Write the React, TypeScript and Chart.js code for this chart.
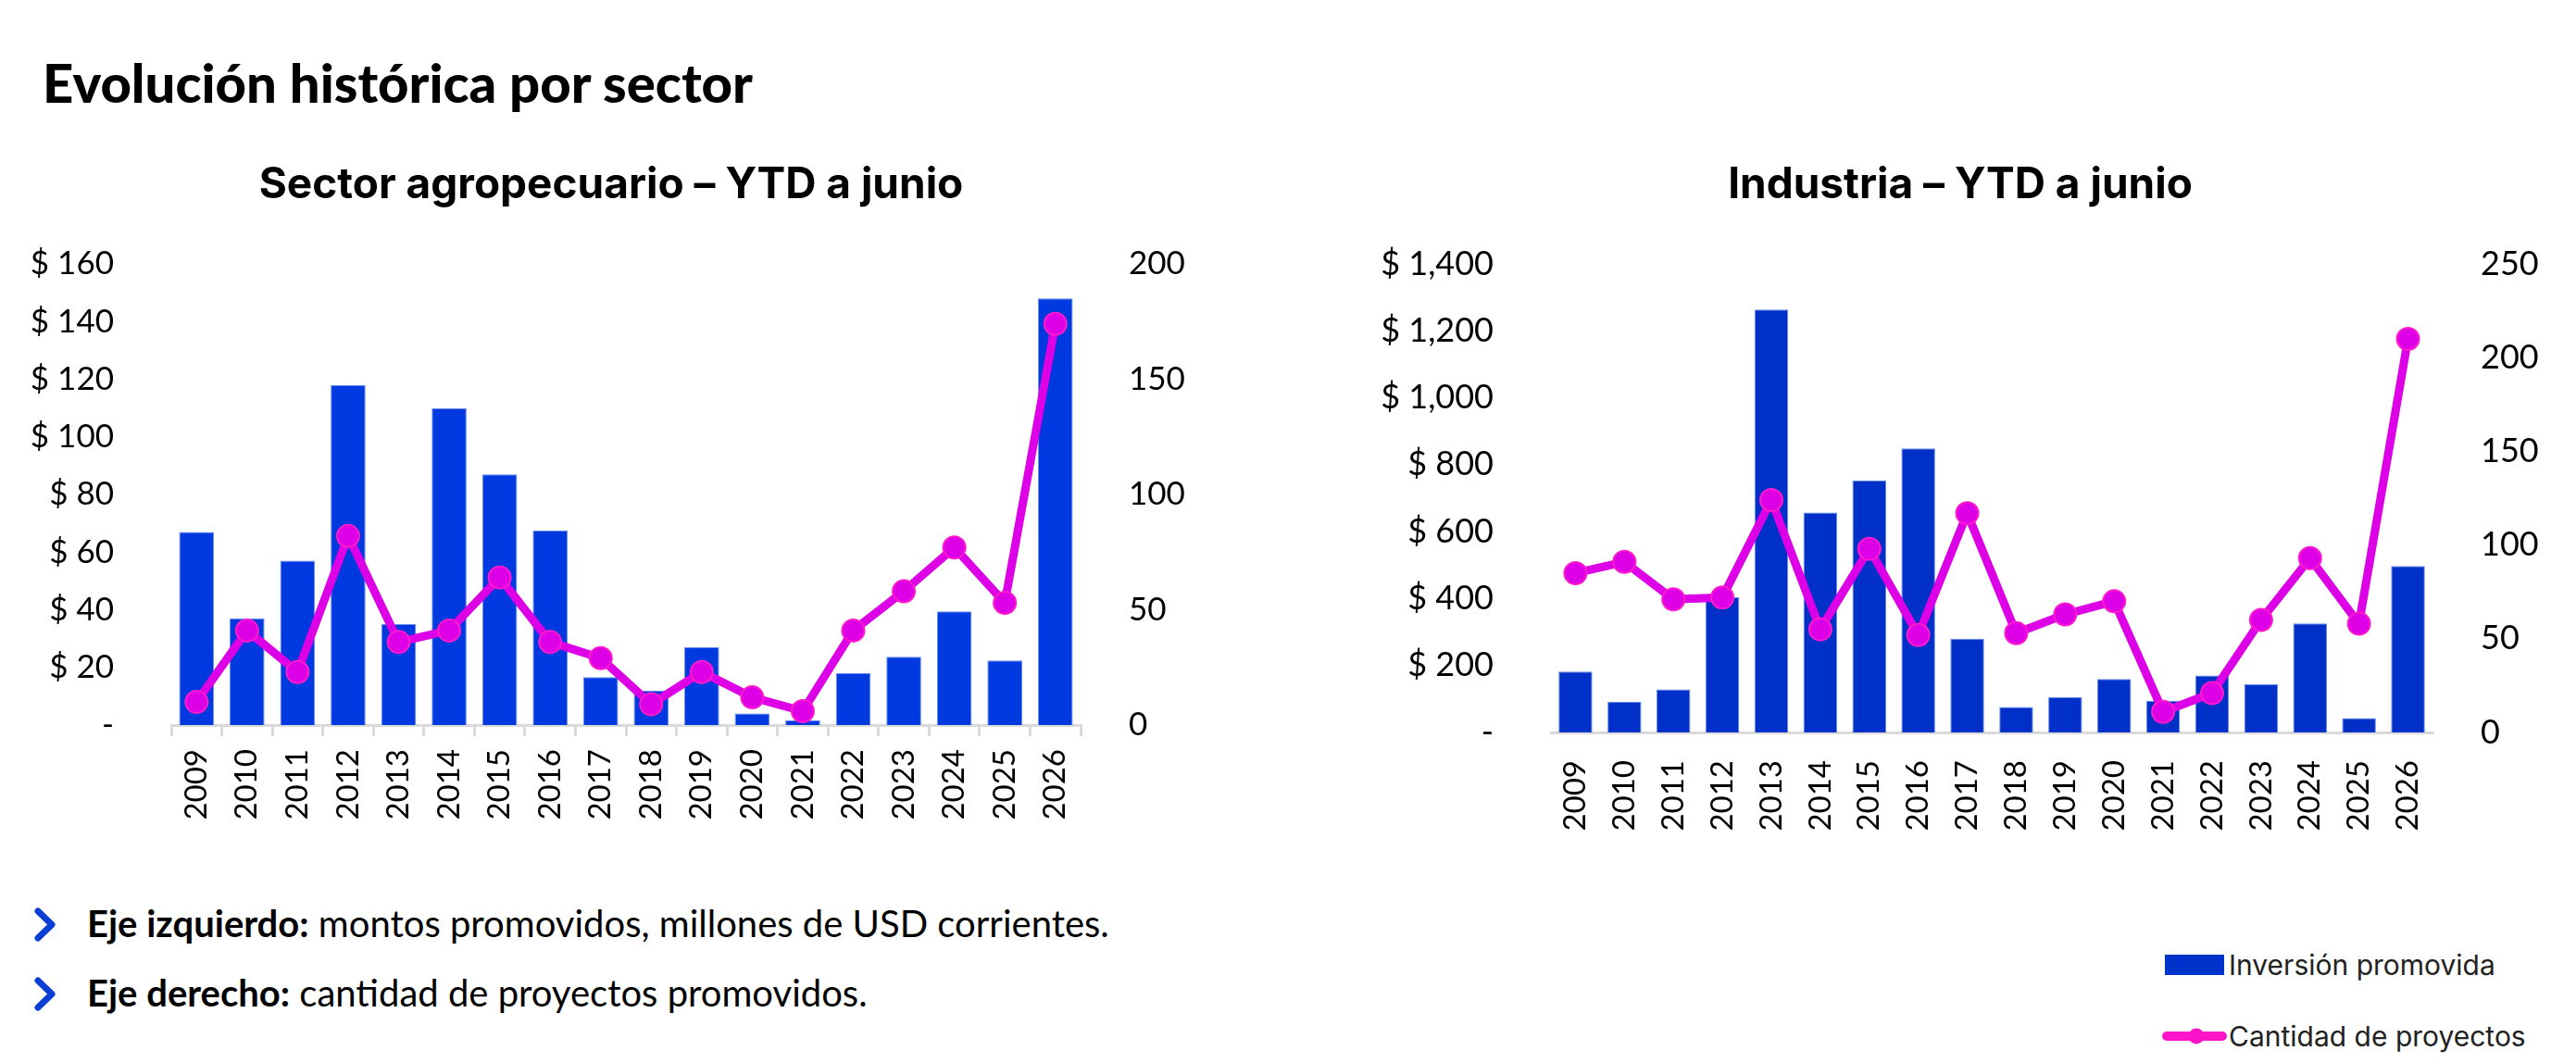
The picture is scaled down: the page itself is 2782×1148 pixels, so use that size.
import { useEffect, useRef } from 'react';
import { Chart, registerables } from 'chart.js';

Chart.register(...registerables);

// Years on the x axis (YTD a junio)
const years = [
  '2009', '2010', '2011', '2012', '2013', '2014', '2015', '2016', '2017',
  '2018', '2019', '2020', '2021', '2022', '2023', '2024', '2025', '2026',
];

// Sector agropecuario
const agroInversion = [67, 37, 57, 118, 35, 110, 87, 67.5, 16.6, 12, 27, 4, 1.6, 18, 23.7, 39.4, 22.4, 148];
const agroProyectos = [10, 41, 23, 82, 36, 41, 64, 36, 29, 9, 23, 12, 6, 41, 58, 77, 53, 174];

// Industria
const industriaInversion = [182, 92, 129, 404, 1264, 657, 753, 849, 280, 76, 106, 160, 95, 170, 144, 326, 43, 497];
const industriaProyectos = [85, 91, 71, 72, 124, 55, 98, 52, 117, 53, 63, 70, 11, 21, 60, 93, 58, 210];

// Axis ranges (left = montos, right = proyectos)
const agroMontoAxis = { max: 160, step: 20 };
const agroProyAxis = { max: 200, step: 50 };
const industriaMontoAxis = { max: 1400, step: 200 };
const industriaProyAxis = { max: 250, step: 50 };

const LINE_COLOR = '#DD00E6';
const MARKER_BORDER = '#FF1ACD';
const AXIS_GRAY = '#d9d9d9';

interface Box {
  left: number;
  top: number;
  width: number;
  height: number;
  areaLeft: number;
  areaRight: number;
  areaBottom: number;
}

interface SectorChartProps {
  title: string;
  bars: number[];
  line: number[];
  barColor: string;
  montoAxis: { max: number; step: number };
  proyAxis: { max: number; step: number };
  box: Box;
  xTicks: boolean;
  xPadding: number;
  tickSize: number;
}

function SectorChart({ title, bars, line, barColor, montoAxis, proyAxis, box, xTicks, xPadding, tickSize }: SectorChartProps) {
  const canvasRef = useRef<HTMLCanvasElement>(null);
  const chartRef = useRef<Chart | null>(null);

  useEffect(() => {
    if (!canvasRef.current) return;
    if (chartRef.current) chartRef.current.destroy();

    const tickFont = { family: 'Lato', size: tickSize };
    const titleSize = 46;
    const titleTop = 25;

    chartRef.current = new Chart(canvasRef.current, {
      type: 'bar',
      data: {
        labels: years,
        datasets: [
          {
            type: 'line',
            label: 'Cantidad de proyectos',
            data: line,
            yAxisID: 'y1',
            order: 0,
            borderColor: LINE_COLOR,
            borderWidth: 9,
            pointRadius: 12,
            pointBackgroundColor: LINE_COLOR,
            pointBorderColor: MARKER_BORDER,
            pointBorderWidth: 2,
            tension: 0,
          },
          {
            type: 'bar',
            label: 'Inversión promovida',
            data: bars,
            yAxisID: 'y',
            order: 1,
            backgroundColor: barColor,
            borderColor: 'rgba(90,130,240,0.9)',
            borderWidth: 1,
            categoryPercentage: 1,
            barPercentage: 0.69,
          },
        ],
      },
      options: {
        responsive: false,
        maintainAspectRatio: false,
        animation: false,
        layout: { padding: 0 },
        plugins: {
          legend: { display: false },
          tooltip: { enabled: false },
          title: {
            display: true,
            text: title,
            color: '#000',
            font: { family: 'Inter', size: titleSize, weight: 'bold' },
            // block ends where the plot area starts (285px from page top)
            padding: { top: titleTop - 2.4, bottom: 285 - box.top - (titleTop - 2.4) - titleSize * 1.2 },
          },
        },
        scales: {
          x: {
            grid: {
              display: xTicks,
              drawOnChartArea: false,
              drawTicks: xTicks,
              tickLength: 12,
              color: AXIS_GRAY,
              lineWidth: 3,
            },
            border: { display: true, color: AXIS_GRAY, width: 3 },
            ticks: {
              autoSkip: false,
              maxRotation: 90,
              minRotation: 90,
              padding: xPadding,
              color: '#000',
              font: { family: 'Lato', size: 33 },
            },
            afterFit: (scale) => {
              scale.height = box.height - box.areaBottom;
            },
          },
          y: {
            position: 'left',
            min: 0,
            max: montoAxis.max,
            grid: { display: false },
            border: { display: false },
            ticks: {
              stepSize: montoAxis.step,
              padding: 54,
              color: '#000',
              font: tickFont,
              callback: (value) => {
                const v = Number(value);
                return v === 0 ? '-' : '$ ' + v.toLocaleString('en-US');
              },
            },
            afterFit: (scale) => {
              scale.width = box.areaLeft;
            },
          },
          y1: {
            position: 'right',
            min: 0,
            max: proyAxis.max,
            grid: { display: false },
            border: { display: false },
            ticks: {
              stepSize: proyAxis.step,
              padding: 44,
              color: '#000',
              font: tickFont,
            },
            afterFit: (scale) => {
              scale.width = box.width - box.areaRight;
            },
          },
        },
      },
    });

    return () => {
      if (chartRef.current) {
        chartRef.current.destroy();
        chartRef.current = null;
      }
    };
  }, [title, bars, line, barColor, montoAxis, proyAxis, box, xTicks, xPadding, tickSize]);

  return (
    <div style={{ position: 'absolute', left: box.left, top: box.top, width: box.width, height: box.height }}>
      <canvas ref={canvasRef} width={box.width} height={box.height} style={{ width: box.width, height: box.height }} />
    </div>
  );
}

// chart boxes: area edges are relative to each box
const agroBox: Box = { left: 10, top: 150, width: 1300, height: 770, areaLeft: 175, areaRight: 1157, areaBottom: 633 };
const industriaBox: Box = { left: 1452, top: 150, width: 1330, height: 790, areaLeft: 223, areaRight: 1175, areaBottom: 641 };

function Chevron({ top }: { top: number }) {
  return (
    <svg style={{ position: 'absolute', left: 34, top }} width={30} height={40}>
      <polyline points="7,4 22,18.5 7,33" fill="none" stroke="#0B3FD3" strokeWidth={7} strokeLinecap="round" strokeLinejoin="round" />
    </svg>
  );
}

const noteText: React.CSSProperties = {
  position: 'absolute',
  left: 94,
  fontFamily: 'Lato',
  fontSize: 40,
  lineHeight: 1,
  color: '#000',
  whiteSpace: 'nowrap',
};

const legendText: React.CSSProperties = {
  position: 'absolute',
  left: 2407,
  fontFamily: 'Inter',
  fontSize: 30,
  lineHeight: '30px',
  color: '#222',
  whiteSpace: 'nowrap',
};

export default function App() {
  return (
    <div style={{ position: 'fixed', left: 0, top: 0, width: 2782, height: 1148, background: '#fff', overflow: 'hidden' }}>
      <div style={{ position: 'absolute', left: 46, top: 60, fontFamily: 'Lato', fontWeight: 900, fontSize: 58, lineHeight: 1, color: '#000', whiteSpace: 'nowrap' }}>
        Evolución histórica por sector
      </div>

      <SectorChart
        title="Sector agropecuario – YTD a junio"
        bars={agroInversion}
        line={agroProyectos}
        barColor="#0039DF"
        montoAxis={agroMontoAxis}
        proyAxis={agroProyAxis}
        box={agroBox}
        xTicks={true}
        xPadding={14}
        tickSize={35}
      />
      <SectorChart
        title="Industria – YTD a junio"
        bars={industriaInversion}
        line={industriaProyectos}
        barColor="#0030C8"
        montoAxis={industriaMontoAxis}
        proyAxis={industriaProyAxis}
        box={industriaBox}
        xTicks={false}
        xPadding={30}
        tickSize={36}
      />

      <Chevron top={980} />
      <div style={{ ...noteText, top: 977 }}>
        <b>Eje izquierdo:</b> montos promovidos, millones de USD corrientes.
      </div>
      <Chevron top={1055} />
      <div style={{ ...noteText, top: 1052 }}>
        <b>Eje derecho:</b> cantidad de proyectos promovidos.
      </div>

      {/* legend */}
      <div style={{ position: 'absolute', left: 2338, top: 1031, width: 64, height: 22, background: '#0033CC' }} />
      <div style={{ ...legendText, top: 1027 }}>Inversión promovida</div>
      <svg style={{ position: 'absolute', left: 2330, top: 1104 }} width={80} height={30}>
        <line x1={10} y1={15} x2={70} y2={15} stroke="#FF14C8" strokeWidth={10} strokeLinecap="round" />
        <circle cx={42} cy={15} r={8.5} fill="#FF14C8" />
      </svg>
      <div style={{ ...legendText, top: 1104 }}>Cantidad de proyectos</div>
    </div>
  );
}
